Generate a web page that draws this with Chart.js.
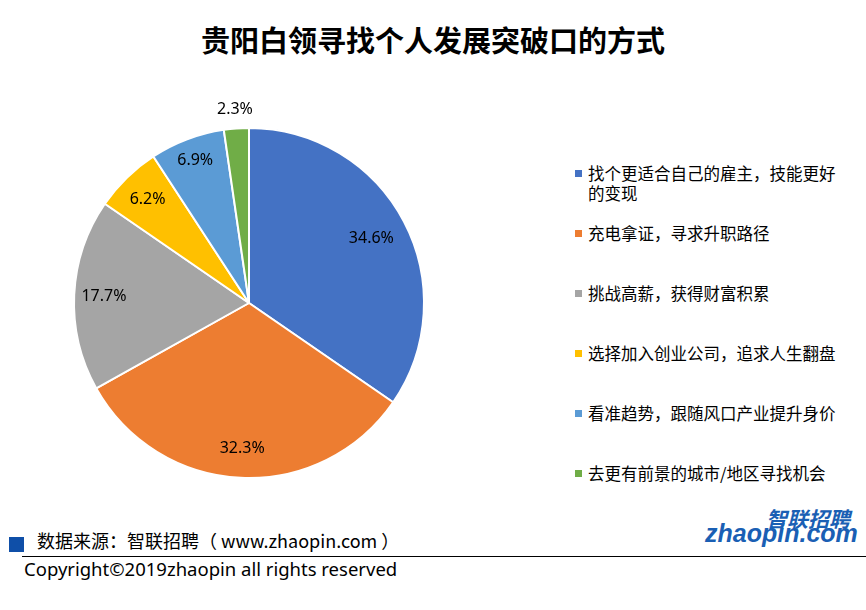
<!DOCTYPE html>
<html><head><meta charset="utf-8">
<script src="https://cdn.jsdelivr.net/npm/chart.js@4"></script>
<style>
body{margin:0;width:866px;height:610px;background:#fff;font-family:"Noto Sans CJK SC","Noto Sans",sans-serif;position:relative;overflow:hidden}
#title{position:absolute;top:18px;left:0;width:866px;text-align:center;font-size:29px;font-weight:bold;color:#000}
#wrap{position:absolute;left:40px;top:90px;width:418px;height:426px}
#legend{position:absolute;left:575px;top:163px;width:264px;font-size:16.5px;color:#000}
.item{position:relative;padding-left:13px;line-height:20px}
.item i{position:absolute;left:0;top:7px;width:7px;height:7px}
#src{position:absolute;left:37px;top:527px;font-size:18px}
#sq{position:absolute;left:9px;top:537px;width:15px;height:15px;background:#0f4fa8}
#line{position:absolute;left:22px;top:556px;width:844px;height:1px;background:#000}
#copy{position:absolute;left:24px;top:556px;font-size:18.5px;font-family:"Noto Sans",sans-serif}
#logo1{position:absolute;left:766px;top:503px;font-size:21px;font-weight:bold;color:#1a5fb4;font-style:italic}
#logo2{position:absolute;left:705px;top:519px;font-size:25px;font-weight:bold;color:#1a5fb4;font-style:italic;font-family:"Liberation Sans",sans-serif}
</style></head><body>
<div id="title">贵阳白领寻找个人发展突破口的方式</div>
<div id="wrap"><canvas id="pie"></canvas></div>
<div id="legend"></div>
<div id="sq"></div><div id="src">数据来源：智联招聘（ www.zhaopin.com ）</div>
<div id="line"></div>
<div id="copy">Copyright©2019zhaopin all rights reserved</div>
<div id="logo1">智联招聘</div><div id="logo2">zhaopin.com</div>
<script>
const categories = ['找个更适合自己的雇主，技能更好的变现','充电拿证，寻求升职路径','挑战高薪，获得财富积累','选择加入创业公司，追求人生翻盘','看准趋势，跟随风口产业提升身价','去更有前景的城市/地区寻找机会'];
const values = [34.6, 32.3, 17.7, 6.2, 6.9, 2.3];
const colors = ['#4472c4','#ed7d31','#a5a5a5','#ffc000','#5b9bd5','#70ad47'];
const labelRadius = [0.79, 0.83, 0.83, 0.83, 0.87, 1.11];

const lg = document.getElementById('legend');
categories.forEach((c, i) => {
  const d = document.createElement('div');
  d.className = 'item';
  d.style.marginBottom = (i === 0 ? 20 : 40) + 'px';
  d.innerHTML = `<i style="background:${colors[i]}"></i>${c}`;
  lg.appendChild(d);
});

const labelPlugin = {
  id: 'pieLabels',
  afterDatasetsDraw(chart) {
    const ctx = chart.ctx;
    ctx.save();
    ctx.font = '16px "Noto Sans", sans-serif';
    ctx.fillStyle = '#000';
    ctx.textAlign = 'center';
    ctx.textBaseline = 'middle';
    chart.getDatasetMeta(0).data.forEach((arc, i) => {
      const a = (arc.startAngle + arc.endAngle) / 2;
      const r = arc.outerRadius * labelRadius[i];
      ctx.fillText(values[i].toFixed(1) + '%', arc.x + Math.cos(a) * r, arc.y + Math.sin(a) * r);
    });
    ctx.restore();
  }
};

new Chart(document.getElementById('pie'), {
  type: 'pie',
  data: { labels: categories, datasets: [{ data: values, backgroundColor: colors, borderColor: '#fff', borderWidth: 2 }] },
  options: {
    responsive: true, maintainAspectRatio: false, animation: false,
    layout: { padding: { left: 33, right: 33, top: 37, bottom: 37 } },
    plugins: { legend: { display: false }, tooltip: { enabled: false } }
  },
  plugins: [labelPlugin]
});
</script>
</body></html>
